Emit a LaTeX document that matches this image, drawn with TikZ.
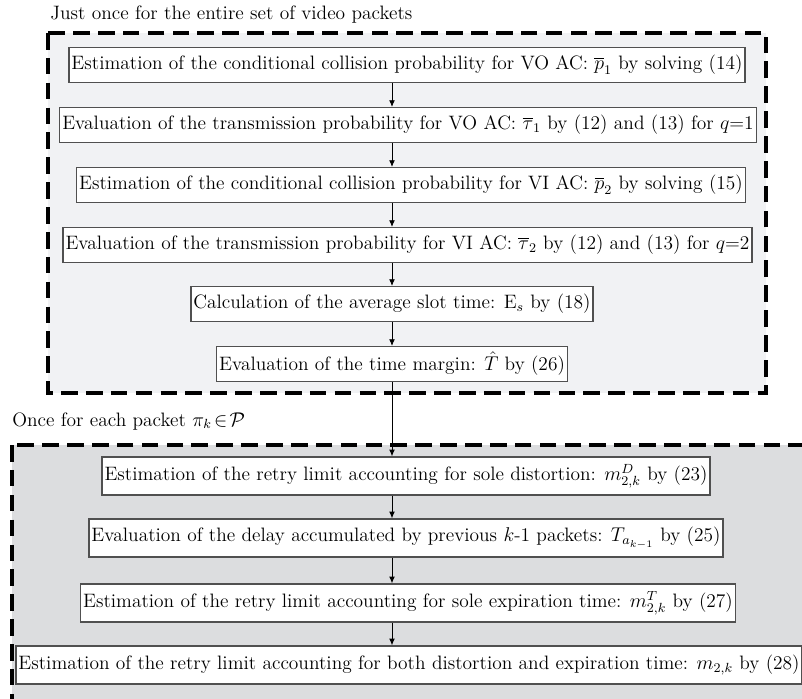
\documentclass[tikz,border=0pt]{standalone}
\usepackage{amsmath}
\usepackage{amsfonts}
\usepackage{amssymb}
\usepackage{tikz}
\usetikzlibrary{arrows.meta}

\begin{document}
\begin{tikzpicture}[x=0.0212cm,y=-0.0212cm, font=\fontsize{11.7}{13.8}\selectfont]
    % Define colors for the two stages
    \definecolor{oncebg}{RGB}{241,242,244}
    \definecolor{eachbg}{RGB}{220,221,223}
    \definecolor{boxline}{RGB}{80,80,80}

    \tikzset{
        stepbox/.style={draw=boxline, fill=white, line width=0.75pt,
            minimum height=0.74cm, inner xsep=1.5pt, inner ysep=1pt},
        packetbox/.style={stepbox, minimum height=0.81cm},
        stage/.style={draw=black, line width=2.4pt, dash pattern=on 10pt off 5pt},
        flow/.style={-{Latex[length=4pt,width=3.5pt]}, line width=0.5pt}
    }

    % Page size of the reference
    \useasboundingbox (0,0) rectangle (802,698);
    \clip (0,0) rectangle (802,698);

    % Stage backgrounds (dashed frames)
    \fill[oncebg] (48,33) rectangle (766,393);
    \draw[stage] (48,33) rectangle (766,393);
    \fill[eachbg] (12,445) rectangle (830,720);
    \draw[stage] (12,445) rectangle (830,720);

    % Stage labels
    \node[anchor=base west, inner sep=0pt] (oncelbl) at (50,20) {Just once for the entire set of video packets};
    \node[anchor=base west, inner sep=0pt] (eachlbl) at (12,426) {Once for each packet $\pi_k\!\in\!\mathcal{P}$};

    % Steps done just once
    \node[stepbox] (vop) at (407,65) {Estimation of the conditional collision probability for VO AC: $\overline{p}_1$ by solving (14)};
    \node[stepbox] (votau) at (408,125) {Evaluation of the transmission probability for VO AC: $\overline{\tau}_1$ by (12) and (13) for $q$=1};
    \node[stepbox] (vip) at (411,185) {Estimation of the conditional collision probability for VI AC: $\overline{p}_2$ by solving (15)};
    \node[stepbox] (vitau) at (407.5,245) {Evaluation of the transmission probability for VI AC: $\overline{\tau}_2$ by (12) and (13) for $q$=2};
    \node[stepbox] (slot) at (392,304) {Calculation of the average slot time: E$_s$ by (18)};
    \node[stepbox] (margin) at (392,364) {Evaluation of the time margin: $\hat{T}$ by (26)};

    % Steps done for each packet
    \node[packetbox] (mdist) at (406,476) {Estimation of the retry limit accounting for sole distortion: $m_{2,k}^{D}$ by (23)};
    \node[packetbox] (delay) at (406,538) {Evaluation of the delay accumulated by previous $k$-1 packets: $T_{a_{k-1}}$ by (25)};
    \node[packetbox] (mexp) at (408,603) {Estimation of the retry limit accounting for sole expiration time: $m_{2,k}^{T}$ by (27)};
    \node[packetbox] (mboth) at (409,665) {Estimation of the retry limit accounting for both distortion and expiration time: $m_{2,k}$ by (28)};

    % Arrows, all on one vertical line
    \foreach \a/\b in {vop/votau, votau/vip, vip/vitau, vitau/slot, slot/margin, margin/mdist, mdist/delay, delay/mexp, mexp/mboth}
        \draw[flow] (\a.south -| margin) -- (\b.north -| margin);

\end{tikzpicture}
\end{document}
